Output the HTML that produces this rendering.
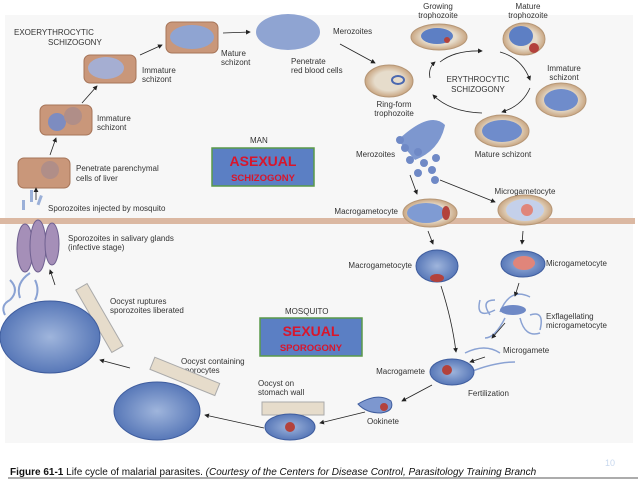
<!DOCTYPE html>
<html><head><meta charset="utf-8"><style>
body{margin:0;background:#fff;}
svg{display:block;font-family:"Liberation Sans",sans-serif;}
</style></head><body>
<svg width="638" height="479" viewBox="0 0 638 479" xmlns="http://www.w3.org/2000/svg">
<defs>
<marker id="a" markerWidth="6" markerHeight="6" refX="5" refY="3" orient="auto"><path d="M0,0 L6,3 L0,6z" fill="#222"/></marker>
<radialGradient id="blue" cx="50%" cy="50%" r="50%"><stop offset="0" stop-color="#9fb5dc"/><stop offset="1" stop-color="#5878b8"/></radialGradient>
<radialGradient id="rbc" cx="50%" cy="50%" r="50%"><stop offset="0.6" stop-color="#e6dccb"/><stop offset="1" stop-color="#c9a682"/></radialGradient>
</defs>
<rect x="5" y="15" width="628" height="428" fill="#f7f7f7"/>
<rect x="0" y="218" width="635" height="6" fill="#dbb8a2"/>
<g font-size="8" fill="#333">
<rect x="18" y="158" width="52" height="30" rx="6" fill="#c9977a" stroke="#a67458"/>
<circle cx="50" cy="170" r="9" fill="#b08e88"/>
<rect x="40" y="105" width="52" height="30" rx="6" fill="#c9977a" stroke="#a67458"/>
<circle cx="57" cy="122" r="9" fill="#7d8cc0"/><circle cx="73" cy="116" r="9" fill="#b08e88"/>
<rect x="84" y="55" width="52" height="28" rx="6" fill="#c9977a" stroke="#a67458"/>
<ellipse cx="106" cy="68" rx="18" ry="11" fill="#a5aed2"/>
<rect x="166" y="22" width="52" height="31" rx="6" fill="#c9977a" stroke="#a67458"/>
<ellipse cx="192" cy="37" rx="22" ry="12" fill="#8fa4d2"/>
<ellipse cx="288" cy="32" rx="32" ry="18" fill="#8fa4d2"/>
<text x="14" y="35">EXOERYTHROCYTIC</text><text x="48" y="45">SCHIZOGONY</text>
<text x="221" y="56">Mature</text><text x="221" y="65">schizont</text>
<text x="142" y="73">Immature</text><text x="142" y="82">schizont</text>
<text x="97" y="121">Immature</text><text x="97" y="130">schizont</text>
<text x="76" y="171">Penetrate parenchymal</text><text x="76" y="181">cells of liver</text>
<text x="48" y="211">Sporozoites injected by mosquito</text>
<text x="333" y="34">Merozoites</text>
<text x="291" y="64">Penetrate</text><text x="291" y="73">red blood cells</text>
<text x="394" y="107" text-anchor="middle">Ring-form</text><text x="394" y="116" text-anchor="middle">trophozoite</text>
<text x="438" y="9" text-anchor="middle">Growing</text><text x="438" y="18" text-anchor="middle">trophozoite</text>
<text x="528" y="9" text-anchor="middle">Mature</text><text x="528" y="18" text-anchor="middle">trophozoite</text>
<text x="564" y="71" text-anchor="middle">Immature</text><text x="564" y="80" text-anchor="middle">schizont</text>
<text x="503" y="157" text-anchor="middle">Mature schizont</text>
<text x="478" y="82" text-anchor="middle">ERYTHROCYTIC</text><text x="478" y="92" text-anchor="middle">SCHIZOGONY</text>
<text x="356" y="157">Merozoites</text>
<text x="250" y="143">MAN</text>
<text x="398" y="214" text-anchor="end">Macrogametocyte</text>
<text x="525" y="194" text-anchor="middle">Microgametocyte</text>
<text x="412" y="268" text-anchor="end">Macrogametocyte</text>
<text x="546" y="266">Microgametocyte</text>
<text x="546" y="319">Exflagellating</text><text x="546" y="328">microgametocyte</text>
<text x="503" y="353">Microgamete</text>
<text x="425" y="374" text-anchor="end">Macrogamete</text>
<text x="468" y="396">Fertilization</text>
<text x="383" y="424" text-anchor="middle">Ookinete</text>
<text x="258" y="386">Oocyst on</text><text x="258" y="395">stomach wall</text>
<text x="181" y="364">Oocyst containing</text><text x="181" y="373">sporocytes</text>
<text x="110" y="304">Oocyst ruptures</text><text x="110" y="313">sporozoites liberated</text>
<text x="68" y="241">Sporozoites in salivary glands</text><text x="68" y="250">(infective stage)</text>
<text x="285" y="314">MOSQUITO</text>
</g>
<ellipse cx="389" cy="81" rx="24" ry="16" fill="url(#rbc)" stroke="#b59676"/>
<ellipse cx="398" cy="80" rx="6" ry="4" fill="none" stroke="#4a68b0" stroke-width="2"/>
<ellipse cx="439" cy="37" rx="28" ry="13" fill="url(#rbc)" stroke="#b59676"/><ellipse cx="437" cy="36" rx="16" ry="8" fill="#5d7fc4"/><circle cx="447" cy="40" r="3" fill="#b3423c"/>
<ellipse cx="524" cy="39" rx="21" ry="16" fill="url(#rbc)" stroke="#b59676"/><ellipse cx="521" cy="36" rx="12" ry="10" fill="#5d7fc4"/><circle cx="534" cy="48" r="5" fill="#b3423c"/>
<ellipse cx="561" cy="100" rx="25" ry="17" fill="url(#rbc)" stroke="#b59676"/><ellipse cx="561" cy="100" rx="17" ry="11" fill="#6f8ccb"/>
<ellipse cx="502" cy="131" rx="27" ry="16" fill="url(#rbc)" stroke="#b59676"/><ellipse cx="502" cy="131" rx="20" ry="11" fill="#6f8ccb"/>
<path d="M398,140 Q430,110 445,125 Q440,150 415,160 Z" fill="#7d97cf"/>
<g fill="#6f89c6"><circle cx="405" cy="148" r="4"/><circle cx="418" cy="152" r="4"/><circle cx="410" cy="160" r="4"/><circle cx="424" cy="163" r="4"/><circle cx="436" cy="158" r="4"/><circle cx="432" cy="170" r="4"/><circle cx="418" cy="173" r="4"/><circle cx="435" cy="180" r="4"/><circle cx="400" cy="140" r="4"/></g>
<ellipse cx="430" cy="213" rx="27" ry="14" fill="url(#rbc)" stroke="#b59676"/><ellipse cx="426" cy="213" rx="19" ry="10" fill="#7f9bd3"/><ellipse cx="446" cy="213" rx="4" ry="7" fill="#b3423c"/>
<ellipse cx="525" cy="210" rx="27" ry="15" fill="url(#rbc)" stroke="#b59676"/><ellipse cx="525" cy="210" rx="19" ry="11" fill="#c4d0ea"/><circle cx="527" cy="210" r="6" fill="#e0857a"/>
<ellipse cx="437" cy="266" rx="21" ry="16" fill="url(#blue)" stroke="#3f5d9e"/><ellipse cx="437" cy="278" rx="7" ry="4" fill="#b3423c"/>
<ellipse cx="523" cy="264" rx="22" ry="13" fill="url(#blue)" stroke="#3f5d9e"/><ellipse cx="524" cy="263" rx="11" ry="7" fill="#e0857a"/>
<g fill="none" stroke="#8aa2d3" stroke-width="1.5"><path d="M490,315 q-10,-15 5,-15"/><path d="M500,312 q10,-25 30,-15"/><path d="M530,315 q15,-5 10,15"/><path d="M505,318 q-10,20 -20,20"/><path d="M520,318 q5,20 20,15"/><path d="M480,300 q-5,20 15,10"/><path d="M465,353 q20,-10 35,0"/><path d="M470,372 q25,-10 45,-10"/></g>
<ellipse cx="513" cy="310" rx="13" ry="5" fill="#6f89c6"/>
<ellipse cx="452" cy="372" rx="22" ry="13" fill="url(#blue)" stroke="#3f5d9e"/><circle cx="447" cy="370" r="5" fill="#b3423c"/>
<path d="M358,404 q20,-12 33,-3 q4,10 -10,12 q-15,0 -23,-9z" fill="#7d97cf" stroke="#3f5d9e"/><circle cx="384" cy="407" r="4" fill="#b3423c"/>
<rect x="262" y="402" width="62" height="13" fill="#e6dccb" stroke="#aaa"/>
<ellipse cx="290" cy="427" rx="25" ry="13" fill="url(#blue)" stroke="#3f5d9e"/><circle cx="290" cy="427" r="5" fill="#b3423c"/>
<g transform="rotate(22 180 375)"><rect x="150" y="368" width="70" height="13" fill="#e6dccb" stroke="#aaa"/></g>
<ellipse cx="157" cy="411" rx="43" ry="29" fill="url(#blue)" stroke="#3f5d9e"/>
<g transform="rotate(60 100 320)"><rect x="62" y="313" width="72" height="13" fill="#e6dccb" stroke="#aaa"/></g>
<ellipse cx="50" cy="337" rx="50" ry="36" fill="url(#blue)" stroke="#3f5d9e"/>
<g fill="none" stroke="#8aa2d3" stroke-width="2"><path d="M10,300 q10,-10 0,-20"/><path d="M20,298 q-5,-15 10,-25"/><path d="M35,300 q5,-10 0,-20"/><path d="M5,315 q-5,-10 5,-15"/></g>
<g fill="#a58fb8" stroke="#6f6090"><ellipse cx="25" cy="248" rx="8" ry="24"/><ellipse cx="38" cy="246" rx="8" ry="26"/><ellipse cx="52" cy="244" rx="7" ry="21"/></g>
<g fill="#9bb0d8"><rect x="30" y="190" width="3" height="12"/><rect x="40" y="195" width="3" height="10" transform="rotate(20 40 195)"/><rect x="22" y="200" width="3" height="10"/></g>
<g fill="none" stroke="#222" stroke-width="0.8" marker-end="url(#a)">
<line x1="50" y1="155" x2="56" y2="138"/><line x1="82" y1="103" x2="97" y2="86"/><line x1="140" y1="55" x2="162" y2="45"/><line x1="223" y1="33" x2="250" y2="32"/>
<line x1="340" y1="44" x2="375" y2="63"/><line x1="36" y1="200" x2="36" y2="188"/>
<line x1="410" y1="175" x2="417" y2="194"/><line x1="440" y1="180" x2="495" y2="202"/>
<line x1="428" y1="231" x2="433" y2="244"/><line x1="523" y1="231" x2="522" y2="244"/>
<line x1="519" y1="283" x2="515" y2="296"/><line x1="505" y1="323" x2="492" y2="338"/><line x1="485" y1="357" x2="470" y2="362"/>
<path d="M441,286 Q452,320 456,352"/><line x1="432" y1="385" x2="402" y2="401"/><line x1="365" y1="412" x2="320" y2="423"/>
<line x1="264" y1="428" x2="205" y2="415"/><line x1="130" y1="368" x2="100" y2="360"/><line x1="55" y1="285" x2="50" y2="270"/>
<path d="M440,62 Q455,50 482,51"/><path d="M500,52 Q522,58 530,80"/><path d="M530,88 Q522,106 502,112"/><path d="M482,113 Q450,112 433,95"/><path d="M430,78 Q428,68 435,62"/>
</g>
<rect x="212" y="148" width="102" height="38" fill="#5b7fc4" stroke="#5a9a4a" stroke-width="1.5"/>
<text x="263" y="166" font-size="14" font-weight="bold" fill="#d8162c" text-anchor="middle">ASEXUAL</text>
<text x="263" y="181" font-size="9.5" font-weight="bold" fill="#d8162c" text-anchor="middle">SCHIZOGONY</text>
<rect x="260" y="318" width="102" height="38" fill="#5b7fc4" stroke="#5a9a4a" stroke-width="1.5"/>
<text x="311" y="336" font-size="14" font-weight="bold" fill="#d8162c" text-anchor="middle">SEXUAL</text>
<text x="311" y="351" font-size="9.5" font-weight="bold" fill="#d8162c" text-anchor="middle">SPOROGONY</text>
<text x="610" y="466" font-size="9" fill="#c8d8ee" text-anchor="middle">10</text>
<text x="10" y="475" font-size="10" fill="#111"><tspan font-weight="bold">Figure 61-1</tspan>  Life cycle of malarial parasites.  <tspan font-style="italic">(Courtesy of the Centers for Disease Control, Parasitology Training Branch</tspan></text>
<line x1="8" y1="478" x2="638" y2="478" stroke="#222" stroke-width="0.8"/>
</svg>
</body></html>
